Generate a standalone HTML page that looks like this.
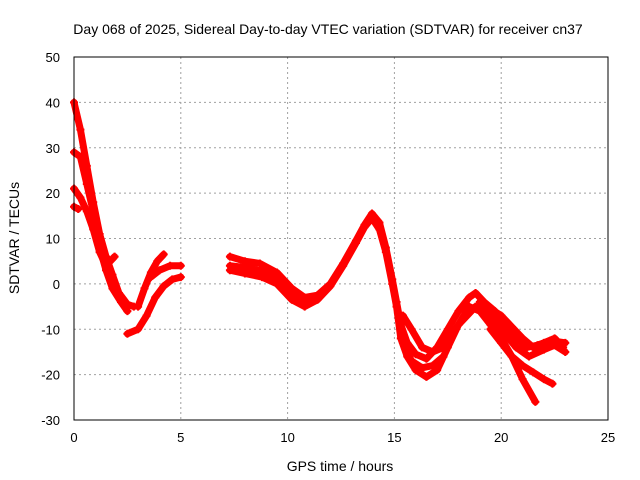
<!DOCTYPE html>
<html><head><meta charset="utf-8"><style>
body{margin:0;background:#fff;}
svg{display:block;font-family:"Liberation Sans",sans-serif;}
</style></head><body>
<svg id="c" width="640" height="480"></svg>
<script>
const xTicks=[0,5,10,15,20,25];
const yTicks=[-30,-20,-10,0,10,20,30,40,50];
const series1=[[0,40],[0.3,34],[0.6,26],[0.9,18],[1.2,11],[1.5,6],[1.8,2],[2.1,-2],[2.5,-4.5],[2.8,-5]];
const series2=[[0,29],[0.3,28],[0.6,22],[0.9,16],[1.2,8],[1.5,3],[1.8,-1],[2.2,-4],[2.5,-6]];
const series3=[[0,21],[0.3,19],[0.6,16],[0.9,12],[1.2,7],[1.5,4],[1.9,6]];
const series4=[[0,17],[0.2,16.5]];
const series5=[[2.5,-11],[3.0,-10],[3.4,-7],[3.8,-3],[4.2,-0.5],[4.6,1],[5,1.5]];
const series6=[[3.0,-5],[3.3,-1],[3.6,2.5],[3.9,5],[4.2,6.5]];
const series7=[[3.6,1.5],[4,3],[4.5,4],[5,4]];
const series8=[[7.3,6],[8,5],[8.7,4.5],[9.5,2.5],[10.2,-1],[10.8,-3],[11.4,-2.5],[12,0],[12.6,4.5],[13.2,9.5],[13.6,13],[13.95,15.5],[14.3,13.5],[14.6,8],[14.9,1],[15.1,-4],[15.3,-9],[15.6,-13],[16,-15.5],[16.5,-16.5],[17,-14],[17.5,-10],[18,-6],[18.5,-3],[18.8,-2],[19.2,-4],[19.7,-6],[20.2,-9],[20.7,-12],[21.2,-14],[21.7,-13.5],[22.3,-12.5],[23,-13]];
const series9=[[7.3,3],[8,2.3],[8.8,1.5],[9.5,0],[10.2,-3.5],[10.8,-5],[11.4,-3.5],[12,-0.5],[12.6,4],[13.2,9],[13.6,12.5],[13.95,14.5],[14.3,12],[14.6,7],[14.9,0],[15.1,-5],[15.3,-12],[15.6,-16],[16,-19],[16.5,-20.5],[17,-19],[17.5,-14],[18,-9],[18.5,-5],[19,-6],[19.5,-9],[20,-12],[20.5,-16],[21,-21],[21.6,-26]];
const series10=[[7.3,4],[8.2,3.5],[9,2.5],[9.8,0],[10.4,-2.5],[11,-4]];
const series13=[[15.4,-7],[15.8,-10],[16.3,-14],[16.8,-15],[17.3,-14],[18,-9],[18.8,-5],[19.5,-7],[20,-10],[20.7,-14],[21.3,-16],[22,-14.5],[22.5,-13.5],[23,-15]];
const series11=[[19,-4],[19.5,-5.5],[20,-7],[20.5,-9.5],[21,-12],[21.5,-14],[22,-13],[22.5,-12],[22.9,-14]];
const series12=[[19.5,-10],[20,-13],[20.5,-16],[21,-18],[21.5,-19.5],[22,-21],[22.4,-22]];
const series14=[[15.4,-13],[15.8,-17],[16.3,-18.5],[16.8,-18],[17.3,-16]];
const allSeries=[series1,series2,series3,series4,series5,series6,series7,series8,series9,series10,series13,series11,series12,series14];
const L=74,R=608,T=57,B=420;
const X=v=>L+(v-0)/25*(R-L);
const Y=v=>B-(v+30)/80*(B-T);
const svg=document.getElementById('c');
const NS='http://www.w3.org/2000/svg';
function mk(t,a,p){const e=document.createElementNS(NS,t);for(const k in a)e.setAttribute(k,a[k]);(p||svg).appendChild(e);return e;}
xTicks.forEach(v=>{
 const g=mk('line',{x1:X(v),x2:X(v),y1:T,y2:B,stroke:'#a0a0a0','stroke-dasharray':'2,3'});
 
 
 const t=mk('text',{x:X(v),y:B+22,'text-anchor':'middle','font-size':13});t.textContent=v;
 
 
});
yTicks.forEach(v=>{
 const g=mk('line',{x1:L,x2:R,y1:Y(v),y2:Y(v),stroke:'#a0a0a0','stroke-dasharray':'2,3'});
 
 
 const t=mk('text',{x:L-14,y:Y(v)+5,'text-anchor':'end','font-size':13});t.textContent=v;
 
 
});
allSeries.forEach(s=>{
 const p=mk('polyline',{points:s.map(d=>X(d[0])+','+Y(d[1])).join(' '),fill:'none',stroke:'#ff0000','stroke-width':7,'stroke-linejoin':'round','stroke-linecap':'round'});
 
 
 s.forEach(d=>{
  const m=mk('path',{d:`M${X(d[0])-4},${Y(d[1])}h8M${X(d[0])},${Y(d[1])-4}v8`,stroke:'#ff0000','stroke-width':2});
  
  
 });
});
const f=mk('rect',{x:L,y:T,width:R-L,height:B-T,fill:'none',stroke:'#000'});


const ti=mk('text',{x:328,y:34,'text-anchor':'middle','font-size':14});ti.textContent='Day 068 of 2025, Sidereal Day-to-day VTEC variation (SDTVAR) for receiver cn37';


const xl=mk('text',{x:340,y:471,'text-anchor':'middle','font-size':14});xl.textContent='GPS time / hours';


const yl=mk('text',{x:0,y:0,'text-anchor':'middle','font-size':14,transform:'translate(19,238) rotate(-90)'});yl.textContent='SDTVAR / TECUs';


</script>
</body></html>
